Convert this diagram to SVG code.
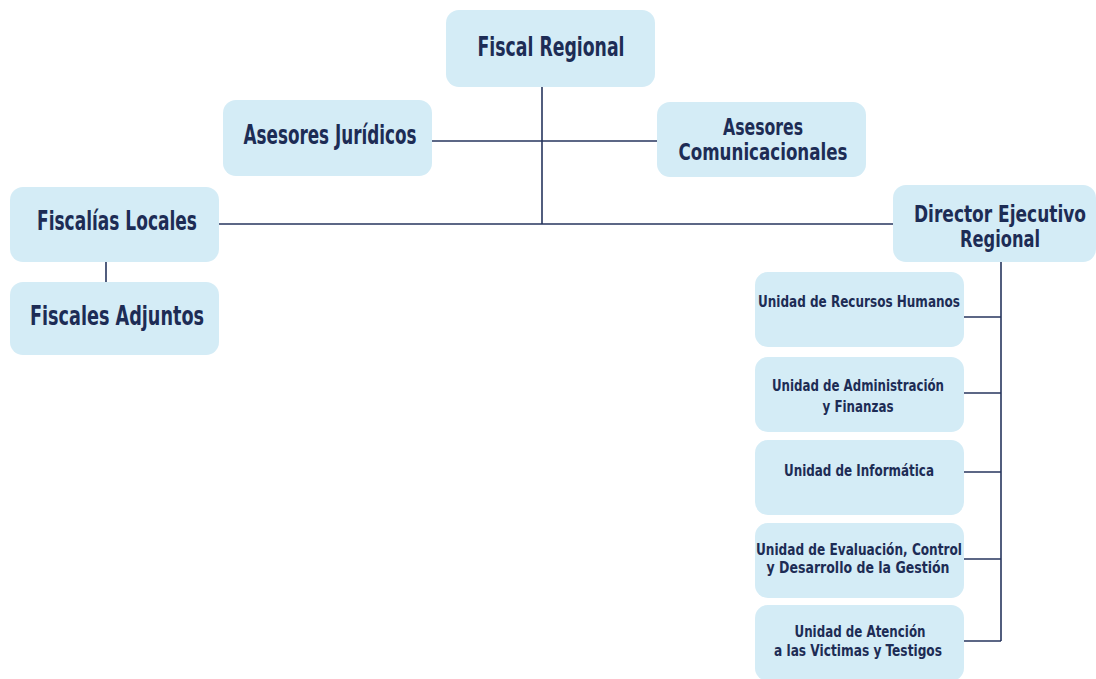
<svg xmlns="http://www.w3.org/2000/svg" width="1096" height="679" viewBox="0 0 1096 679">
  <style>
    .box { fill: #d4ecf6; }
    .lbl { font-family: "DejaVu Sans Condensed", "Liberation Sans", sans-serif; font-weight: bold; fill: #1d2c55; text-anchor: middle; }
    .big { font-size: 26px; }
    .pair { font-size: 23px; }
    .small { font-size: 15px; }
    .wire { stroke: #26355e; stroke-width: 1.6; fill: none; }
  </style>
  <rect width="1096" height="679" fill="#ffffff"/>

  <!-- connectors -->
  <g id="connectors">
    <path class="wire" d="M542 86 V224"/>
    <path class="wire" d="M432 141 H657"/>
    <path class="wire" d="M219 224 H893"/>
    <path class="wire" d="M106 262 V282"/>
    <path class="wire" d="M1001 261 V641"/>
    <path class="wire" d="M964 317 H1001"/>
    <path class="wire" d="M964 393 H1001"/>
    <path class="wire" d="M964 472 H1001"/>
    <path class="wire" d="M964 559 H1001"/>
    <path class="wire" d="M964 641 H1001"/>
  </g>

  <g id="fiscal-regional">
    <rect class="box" x="446" y="10" width="209" height="77" rx="13"/>
    <text class="lbl big" x="551" y="56" textLength="147" lengthAdjust="spacingAndGlyphs">Fiscal Regional</text>
  </g>

  <g id="asesores-juridicos">
    <rect class="box" x="223" y="100" width="209" height="76" rx="13"/>
    <text class="lbl big" x="330" y="144" textLength="173" lengthAdjust="spacingAndGlyphs">Asesores Jurídicos</text>
  </g>

  <g id="asesores-comunicacionales">
    <rect class="box" x="657" y="102" width="209" height="75" rx="13"/>
    <text class="lbl pair" x="763" y="135" textLength="80" lengthAdjust="spacingAndGlyphs">Asesores</text>
    <text class="lbl pair" x="763" y="160" textLength="169" lengthAdjust="spacingAndGlyphs">Comunicacionales</text>
  </g>

  <g id="fiscalias-locales">
    <rect class="box" x="10" y="187" width="209" height="75" rx="13"/>
    <text class="lbl big" x="117" y="230" textLength="160" lengthAdjust="spacingAndGlyphs">Fiscalías Locales</text>
  </g>

  <g id="fiscales-adjuntos">
    <rect class="box" x="10" y="282" width="209" height="73" rx="13"/>
    <text class="lbl big" x="117" y="325" textLength="174" lengthAdjust="spacingAndGlyphs">Fiscales Adjuntos</text>
  </g>

  <g id="director-ejecutivo">
    <rect class="box" x="893" y="185" width="203" height="77" rx="13"/>
    <text class="lbl pair" x="1000" y="222" textLength="172" lengthAdjust="spacingAndGlyphs">Director Ejecutivo</text>
    <text class="lbl pair" x="1000" y="247" textLength="80" lengthAdjust="spacingAndGlyphs">Regional</text>
  </g>

  <g id="unidad-rrhh">
    <rect class="box" x="755" y="272" width="209" height="75" rx="13"/>
    <text class="lbl small" x="859" y="307" textLength="202" lengthAdjust="spacingAndGlyphs">Unidad de Recursos Humanos</text>
  </g>

  <g id="unidad-administracion">
    <rect class="box" x="755" y="357" width="209" height="75" rx="13"/>
    <text class="lbl small" x="858" y="391" textLength="172" lengthAdjust="spacingAndGlyphs">Unidad de Administración</text>
    <text class="lbl small" x="858" y="412" textLength="71" lengthAdjust="spacingAndGlyphs">y Finanzas</text>
  </g>

  <g id="unidad-informatica">
    <rect class="box" x="755" y="440" width="209" height="75" rx="13"/>
    <text class="lbl small" x="859" y="476" textLength="150" lengthAdjust="spacingAndGlyphs">Unidad de Informática</text>
  </g>

  <g id="unidad-evaluacion">
    <rect class="box" x="755" y="523" width="209" height="75" rx="13"/>
    <text class="lbl small" x="859" y="555" textLength="206" lengthAdjust="spacingAndGlyphs">Unidad de Evaluación, Control</text>
    <text class="lbl small" x="858" y="573" textLength="183" lengthAdjust="spacingAndGlyphs">y Desarrollo de la Gestión</text>
  </g>

  <g id="unidad-atencion">
    <rect class="box" x="755" y="605" width="209" height="76" rx="13"/>
    <text class="lbl small" x="860" y="637" textLength="131" lengthAdjust="spacingAndGlyphs">Unidad de Atención</text>
    <text class="lbl small" x="858" y="656" textLength="168" lengthAdjust="spacingAndGlyphs">a las Victimas y Testigos</text>
  </g>
</svg>
